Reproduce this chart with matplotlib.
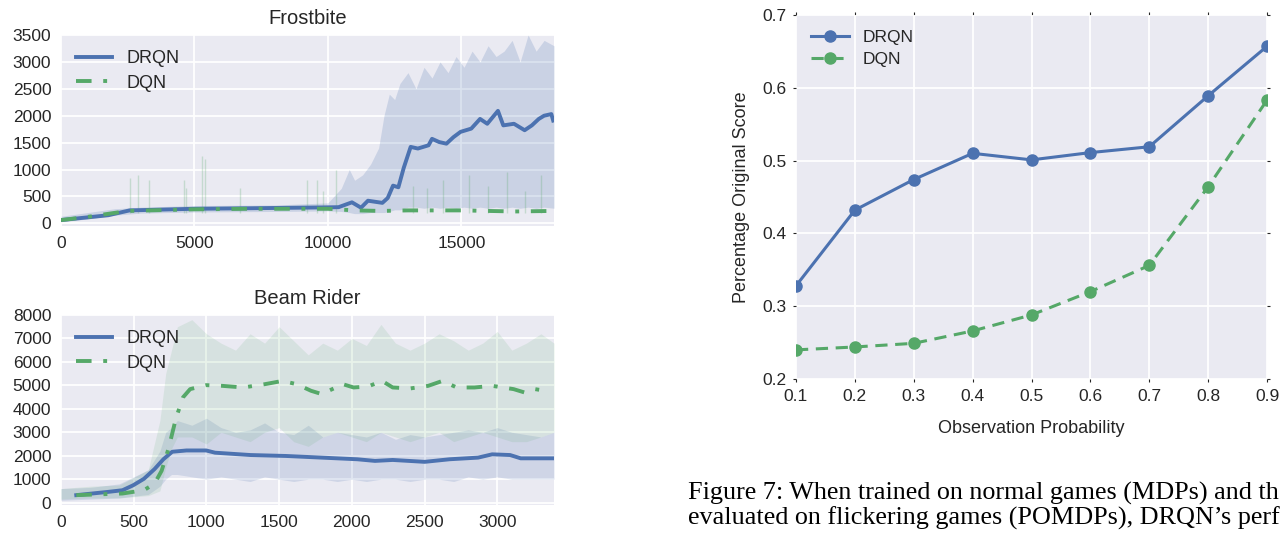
import numpy as np
import matplotlib
matplotlib.use("Agg")
from matplotlib import pyplot as plt

# ---------------- data ----------------
# Frostbite (smoothed curves)
fb_drqn_x = [0, 1770, 2570, 5000, 7100, 9770, 10400, 10900, 11240, 11500, 12040, 12240, 12440,
             12640, 12840, 13100, 13370, 13770, 13900, 14170, 14440, 14700, 14970, 15370, 15700,
             15970, 16370, 16570, 16970, 17370, 17640, 17900, 18100, 18370, 18440]
fb_drqn_y = [60, 150, 240, 270, 280, 295, 300, 390, 290, 420, 380, 470, 700,
             670, 1030, 1420, 1390, 1450, 1570, 1510, 1480, 1600, 1700, 1760, 1940,
             1850, 2090, 1820, 1850, 1730, 1820, 1940, 2000, 2030, 1910]
fb_dqn_x = [0, 1000, 2500, 5000, 7000, 10000, 11000, 12000, 13000, 15000, 16000, 17000, 18440]
fb_dqn_y = [60, 120, 230, 260, 270, 270, 240, 230, 240, 240, 230, 220, 230]

# Frostbite raw-score spread (envelopes of the faint traces)
fb_band_x = [0, 1000, 2000, 3000, 5000, 8000, 10000, 10500, 10800, 11000, 11300, 11600, 11900,
             12100, 12300, 12500, 12700, 13000, 13300, 13600, 13900, 14200, 14500, 14800,
             15100, 15400, 15700, 16000, 16300, 16600, 16900, 17200, 17500, 17800, 18100, 18470]
fb_band_hi = [130, 200, 270, 300, 330, 340, 380, 650, 1000, 800, 900, 1100, 1400,
              2000, 2400, 2300, 2600, 2800, 2500, 2900, 2700, 3000, 2800, 3100,
              2900, 3200, 3000, 3300, 3100, 3200, 3400, 3000, 3500, 3200, 3400, 3300]
fb_band_lo = [30, 80, 150, 190, 210, 220, 230, 220, 200, 180, 180, 200, 200,
              200, 220, 250, 250, 300, 300, 280, 300, 280, 300, 280,
              300, 280, 300, 280, 300, 280, 300, 280, 300, 280, 300, 280]
fb_dqn_spike_x = [2600, 2900, 3300, 4600, 4700, 5300, 5400, 6700, 9200, 9600, 9800,
                  10300, 13200, 13700, 14300, 15300, 16000, 16700, 17400, 18000]
fb_dqn_spike_y = [850, 900, 800, 800, 650, 1250, 1200, 650, 800, 800, 600,
                  1000, 700, 650, 800, 900, 700, 950, 600, 900]

# Beam Rider (smoothed curves)
br_drqn_x = [105, 325, 423, 496, 570, 643, 704, 765, 863, 998, 1059, 1303, 1548, 1792,
             2037, 2159, 2281, 2501, 2672, 2868, 2965, 3088, 3161, 3390]
br_drqn_y = [320, 460, 530, 740, 1015, 1430, 1850, 2170, 2225, 2225, 2130, 2030, 1990, 1920,
             1850, 1780, 1820, 1740, 1850, 1920, 2060, 2030, 1890, 1890]
br_dqn_x = [105, 423, 570, 643, 692, 741, 790, 839, 888, 998, 1108, 1254, 1401, 1523, 1621,
            1719, 1792, 1890, 1939, 2012, 2110, 2208, 2281, 2403, 2525, 2623, 2721, 2843,
            2965, 3112, 3186, 3259, 3300]
br_dqn_y = [320, 390, 530, 810, 1360, 2340, 3590, 4490, 4840, 5010, 4980, 4910, 5050, 5190, 5050,
            4770, 4630, 4910, 5050, 4910, 4950, 5190, 4910, 4870, 4980, 5190, 4910, 4910,
            4980, 4840, 4700, 4840, 4800]

# Beam Rider raw-score spread
br_band_x = [0, 200, 400, 600, 680, 720, 760, 800, 900, 1000, 1100, 1200, 1300, 1400, 1500,
             1600, 1700, 1800, 1900, 2000, 2100, 2200, 2300, 2400, 2500, 2600, 2700, 2800,
             2900, 3000, 3100, 3200, 3300, 3390]
br_dqn_hi = [600, 700, 750, 1400, 3500, 5500, 6500, 7500, 7800, 7200, 6800, 6500, 7200, 6800, 7500,
             6900, 6300, 6800, 6500, 7000, 6700, 7600, 6800, 6500, 6800, 7200, 6900, 6500,
             6800, 7300, 6500, 6800, 7200, 6800]
br_dqn_lo = [150, 200, 200, 300, 500, 1500, 2300, 2800, 2800, 2500, 3000, 2800, 2600, 3000, 3200,
             2600, 2400, 2800, 3000, 2800, 2600, 3000, 2800, 2600, 2800, 3000, 2600, 2800,
             3000, 2800, 2600, 2600, 2800, 3000]
br_drqn_hi = [600, 650, 800, 1400, 2200, 3000, 3200, 3500, 3300, 3600, 3200, 3000, 3100, 3400, 3000,
              2900, 3300, 2800, 3000, 2900, 2800, 3000, 2700, 2900, 2800, 2900, 3000, 3100,
              3000, 3200, 3000, 2900, 2800, 3000]
br_drqn_lo = [100, 150, 200, 350, 700, 1000, 1200, 1200, 1100, 1000, 1100, 1000, 900, 1100, 1000,
              900, 1000, 1000, 900, 1000, 900, 1000, 1000, 900, 1000, 1000, 900, 1100,
              1000, 1100, 1000, 1000, 1000, 1000]

# flickering evaluation
obs_prob = [0.1, 0.2, 0.3, 0.4, 0.5, 0.6, 0.7, 0.8, 0.9]
drqn_score = [0.328, 0.432, 0.474, 0.510, 0.501, 0.511, 0.519, 0.589, 0.657]
dqn_score = [0.240, 0.244, 0.249, 0.266, 0.288, 0.320, 0.356, 0.464, 0.583]

# caption, as much of it as shows inside the picture
caption = ["Figure 7: When trained on normal games (MDPs) and th",
           "evaluated on flickering games (POMDPs), DRQN\u2019s perf"]

# ---------------- style ----------------
blue = "#4C72B0"
green = "#55A868"
bg = "#EAEAF2"
plt.rcParams['font.family'] = ['Liberation Sans', 'DejaVu Sans']
plt.rcParams['text.color'] = '#262626'
plt.rcParams['xtick.color'] = '#262626'
plt.rcParams['ytick.color'] = '#262626'
plt.rcParams['axes.labelcolor'] = '#262626'

fig = plt.figure(figsize=(12.88, 5.37), dpi=100)


def style(ax):
    ax.set_facecolor(bg)
    for s in ax.spines.values():
        s.set_visible(False)
    ax.grid(True, color='white', linewidth=1.3)
    ax.set_axisbelow(True)
    ax.tick_params(length=0, labelsize=12.5, pad=7)


ax1 = fig.add_axes([61/1288, 1-226/537, 493/1288, 191/537])
style(ax1)
ax1.fill_between(fb_band_x, fb_band_lo, fb_band_hi, color=blue, alpha=0.2, lw=0)
ax1.vlines(fb_dqn_spike_x, 200, fb_dqn_spike_y, color=green, alpha=0.25, lw=1)
ax1.plot(fb_drqn_x, fb_drqn_y, color=blue, lw=2.8, label="DRQN")
ax1.plot(fb_dqn_x, fb_dqn_y, color=green, lw=2.8, ls=(0, (4, 3, 1, 3)), label="DQN")
ax1.set_xlim(0, 18470)
ax1.set_ylim(-50, 3500)
ax1.set_yticks(range(0, 3501, 500))
ax1.set_xticks([0, 5000, 10000, 15000])
ax1.set_title("Frostbite", fontsize=14.5, pad=8)
ax1.legend(loc='upper left', frameon=False, fontsize=13, handlelength=2.0,
           borderaxespad=0.45, labelspacing=0.4)

ax2 = fig.add_axes([61/1288, 1-505/537, 493/1288, 190/537])
style(ax2)
ax2.fill_between(br_band_x, br_drqn_lo, br_drqn_hi, color=blue, alpha=0.17, lw=0)
ax2.fill_between(br_band_x, br_dqn_lo, br_dqn_hi, color=green, alpha=0.13, lw=0)
ax2.plot(br_drqn_x, br_drqn_y, color=blue, lw=2.8, label="DRQN")
ax2.plot(br_dqn_x, br_dqn_y, color=green, lw=2.8, ls=(0, (4, 3, 1, 3)), label="DQN")
ax2.set_xlim(0, 3390)
ax2.set_ylim(-100, 8000)
ax2.set_yticks(range(0, 8001, 1000))
ax2.set_xticks(range(0, 3001, 500))
ax2.set_title("Beam Rider", fontsize=14.5, pad=8)
ax2.legend(loc='upper left', frameon=False, fontsize=13, handlelength=2.0,
           borderaxespad=0.45, labelspacing=0.4)

ax3 = fig.add_axes([796/1288, 1-379/537, 471/1288, 364/537])
style(ax3)
ax3.tick_params(length=2, width=0.8, color='#262626', pad=5, top=True, right=True)
ax3.plot(obs_prob, drqn_score, color=blue, lw=2.2, marker='o', ms=8, label="DRQN")
ax3.plot(obs_prob, dqn_score, color=green, lw=2.2, ls=(0, (4, 2.5)), marker='o', ms=8, label="DQN")
ax3.set_xlim(0.1, 0.9)
ax3.set_ylim(0.2, 0.7)
ax3.set_xticks(obs_prob)
ax3.set_yticks([0.2, 0.3, 0.4, 0.5, 0.6, 0.7])
ax3.set_xlabel("Observation Probability", fontsize=13, labelpad=12)
ax3.set_ylabel("Percentage Original Score", fontsize=13, labelpad=9)
ax3.legend(loc='upper left', frameon=False, fontsize=12.5, handlelength=2.2,
           borderaxespad=0.45, labelspacing=0.4)

fig.text(688/1288, 1-493/537, caption[0], family=['Liberation Serif', 'DejaVu Serif'],
         fontsize=18.8, va='center', ha='left', color='black')
fig.text(688/1288, 1-518/537, caption[1], family=['Liberation Serif', 'DejaVu Serif'],
         fontsize=18.8, va='center', ha='left', color='black')

fig.savefig("out.png", dpi=100)
